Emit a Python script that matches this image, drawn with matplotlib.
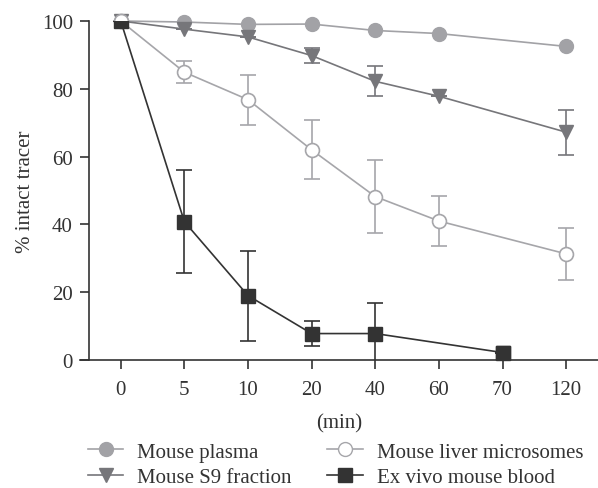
import numpy as np
import matplotlib
matplotlib.use("Agg")
import matplotlib.pyplot as plt
from matplotlib.lines import Line2D

# time points (categorical x axis)
times = ["0", "5", "10", "20", "40", "60", "70", "120"]

plasma_x = ["0", "5", "10", "20", "40", "60", "120"]
plasma_y = [100, 99.7, 99.0, 99.1, 97.2, 96.3, 92.5]

s9_x = ["0", "5", "10", "20", "40", "60", "120"]
s9_y = [100, 97.6, 95.3, 89.8, 82.2, 77.8, 67.2]
s9_err = [0, 0, 0, 2.2, 4.4, 0, 6.6]

micro_x = ["0", "5", "10", "20", "40", "60", "120"]
micro_y = [100, 84.9, 76.8, 62.0, 48.2, 41.0, 31.3]
micro_err = [0, 3.2, 7.4, 8.7, 10.7, 7.5, 7.7]

blood_x = ["0", "5", "10", "20", "40", "70"]
blood_y = [100, 40.8, 19.0, 7.8, 7.8, 2.2]
blood_err = [0, 15.2, 13.3, 3.8, 8.9, 0]

plt.rcParams["font.family"] = ["Liberation Serif", "DejaVu Serif"]
fs = 15

fig = plt.figure(figsize=(5.98, 4.89), dpi=100)
ax = fig.add_axes([80 / 598, 1 - 361 / 489, 518 / 598, 339 / 489])

pos = {t: i for i, t in enumerate(times)}


def xs(labels):
    return [pos[t] for t in labels]


c_plasma = "#a2a2a6"
c_s9 = "#76767a"
c_micro = "#a6a6aa"
c_blood = "#333333"

ax.plot(xs(plasma_x), plasma_y, color=c_plasma, lw=1.2, marker="o", ms=10,
        mfc=c_plasma, mec=c_plasma, clip_on=False, zorder=3)
ax.errorbar(xs(s9_x), s9_y, yerr=s9_err, color=c_s9, lw=1.2, marker="v", ms=10,
            mfc=c_s9, mec=c_s9, capsize=6, elinewidth=1.2, capthick=1.2,
            clip_on=False, zorder=3)
ax.errorbar(xs(micro_x), micro_y, yerr=micro_err, color=c_micro, lw=1.2, marker="o",
            ms=10, mfc="white", mec=c_micro, mew=1.2, capsize=6, elinewidth=1.2,
            capthick=1.2, clip_on=False, zorder=3)
ax.errorbar(xs(blood_x), blood_y, yerr=blood_err, color=c_blood, lw=1.2, marker="s",
            ms=10, mfc=c_blood, mec=c_blood, capsize=6, elinewidth=1.2, capthick=1.2,
            clip_on=True, zorder=4)
# last blood point sits on the axis, draw it unclipped
ax.plot([pos["70"]], [blood_y[-1]], marker="s", ms=10, color=c_blood,
        clip_on=False, zorder=5)

ax.set_xlim(-0.64, 7.5)
ax.set_ylim(0, 100)
ax.set_xticks(range(len(times)))
ax.set_xticklabels(times)
ax.set_yticks([0, 20, 40, 60, 80, 100])

ax.spines["top"].set_visible(False)
ax.spines["right"].set_visible(False)
ax.spines["left"].set_position(("data", -0.5))
for s in ("left", "bottom"):
    ax.spines[s].set_color("#333333")
    ax.spines[s].set_linewidth(1.2)
ax.tick_params(axis="both", colors="#333333", width=1.2, length=6.5,
               labelsize=fs, labelcolor="#333333")
ax.tick_params(axis="x", pad=8)
ax.tick_params(axis="y", pad=5)

ax.set_xlabel("(min)", fontsize=fs, color="#333333", labelpad=10)
ax.set_ylabel("% intact tracer", fontsize=fs, color="#333333", labelpad=5)

handles = [
    Line2D([], [], color=c_plasma, lw=1.2, marker="o", ms=10, mfc=c_plasma, mec=c_plasma),
    Line2D([], [], color=c_s9, lw=1.2, marker="v", ms=10, mfc=c_s9, mec=c_s9),
    Line2D([], [], color=c_micro, lw=1.2, marker="o", ms=10, mfc="white", mec=c_micro),
    Line2D([], [], color=c_blood, lw=1.2, marker="s", ms=10, mfc=c_blood, mec=c_blood),
]
labels = ["Mouse plasma", "Mouse S9 fraction", "Mouse liver microsomes", "Ex vivo mouse blood"]
fig.legend(handles, labels, ncol=2, frameon=False,
           loc="upper left", bbox_to_anchor=(88 / 598, 0.094), fontsize=fs,
           borderaxespad=0, borderpad=0,
           handlelength=1.7, handletextpad=0.67, columnspacing=1.7, labelspacing=0.3,
           labelcolor="#333333")

fig.savefig("out.png", dpi=100)
